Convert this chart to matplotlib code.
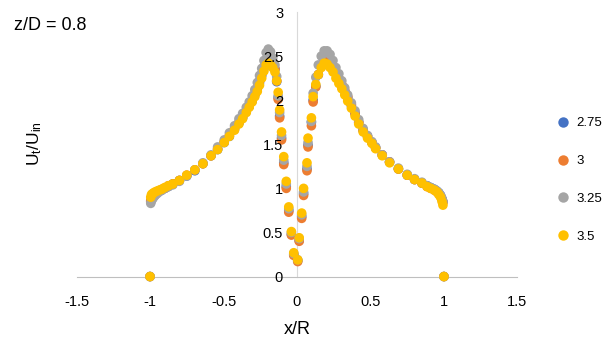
import matplotlib
matplotlib.use("Agg")
import matplotlib.pyplot as plt
from matplotlib.lines import Line2D

plt.rcParams["font.family"] = ["Liberation Sans", "DejaVu Sans"]
plt.rcParams["axes.unicode_minus"] = False
plt.rcParams["mathtext.default"] = "regular"

# radial positions x/R, left half then right half
x_left = [-1.0, -0.995, -0.99, -0.983, -0.975, -0.965, -0.952, -0.937, -0.92, -0.9,
          -0.875, -0.845, -0.8, -0.75, -0.695, -0.64, -0.585, -0.54, -0.495, -0.46,
          -0.425, -0.395, -0.37, -0.345, -0.325, -0.305, -0.287, -0.27, -0.255, -0.24,
          -0.225, -0.21, -0.195, -0.18, -0.165, -0.15, -0.138, -0.128, -0.118, -0.105,
          -0.09, -0.073, -0.056, -0.038, -0.022, 0.005]
x_right = [0.015, 0.032, 0.045, 0.068, 0.075, 0.098, 0.11, 0.128, 0.145, 0.165,
           0.185, 0.205, 0.225, 0.245, 0.265, 0.285, 0.305, 0.325, 0.345, 0.37,
           0.395, 0.42, 0.45, 0.48, 0.51, 0.535, 0.58, 0.63, 0.69, 0.75,
           0.8, 0.85, 0.885, 0.91, 0.935, 0.952, 0.965, 0.977, 0.987, 0.993,
           1.0]

# Ut/Uin, one list per case (left half, right half)
u_275_l = [0.00, 0.85, 0.88, 0.90, 0.92, 0.93, 0.95, 0.97, 0.98, 1.00,
           1.02, 1.05, 1.09, 1.14, 1.20, 1.28, 1.37, 1.44, 1.52, 1.59,
           1.67, 1.74, 1.80, 1.87, 1.93, 1.99, 2.06, 2.13, 2.20, 2.28,
           2.36, 2.44, 2.47, 2.45, 2.40, 2.35, 2.21, 2.03, 1.82, 1.57,
           1.29, 1.02, 0.75, 0.48, 0.25, 0.18]
u_275_r = [0.41, 0.68, 0.94, 1.22, 1.49, 1.75, 2.00, 2.16, 2.29, 2.38,
           2.45, 2.46, 2.43, 2.38, 2.31, 2.24, 2.17, 2.10, 2.03, 1.94,
           1.85, 1.75, 1.66, 1.59, 1.52, 1.46, 1.38, 1.30, 1.22, 1.15,
           1.10, 1.06, 1.03, 1.01, 0.99, 0.97, 0.95, 0.92, 0.88, 0.85,
           0.00]
u_3_l = [0.00, 0.86, 0.89, 0.91, 0.93, 0.94, 0.96, 0.97, 0.99, 1.00,
         1.03, 1.05, 1.09, 1.15, 1.21, 1.28, 1.37, 1.45, 1.53, 1.60,
         1.68, 1.75, 1.81, 1.88, 1.94, 2.00, 2.07, 2.14, 2.22, 2.30,
         2.38, 2.46, 2.49, 2.47, 2.42, 2.36, 2.22, 2.01, 1.80, 1.55,
         1.27, 1.00, 0.73, 0.47, 0.24, 0.17]
u_3_r = [0.40, 0.66, 0.92, 1.20, 1.47, 1.71, 1.98, 2.15, 2.29, 2.39,
         2.46, 2.47, 2.44, 2.39, 2.32, 2.25, 2.18, 2.11, 2.04, 1.95,
         1.85, 1.75, 1.66, 1.59, 1.52, 1.46, 1.38, 1.30, 1.22, 1.15,
         1.10, 1.06, 1.02, 1.00, 0.98, 0.96, 0.94, 0.91, 0.87, 0.84,
         0.00]
u_325_l = [0.00, 0.83, 0.86, 0.88, 0.90, 0.92, 0.94, 0.96, 0.98, 1.00,
           1.02, 1.04, 1.08, 1.14, 1.21, 1.29, 1.38, 1.47, 1.55, 1.63,
           1.71, 1.79, 1.85, 1.92, 1.98, 2.05, 2.12, 2.20, 2.28, 2.36,
           2.45, 2.54, 2.58, 2.55, 2.48, 2.40, 2.27, 2.05, 1.86, 1.60,
           1.32, 1.05, 0.77, 0.50, 0.26, 0.19]
u_325_r = [0.43, 0.70, 0.96, 1.25, 1.52, 1.76, 2.08, 2.26, 2.40, 2.50,
           2.56, 2.56, 2.52, 2.45, 2.37, 2.30, 2.22, 2.14, 2.06, 1.97,
           1.88, 1.78, 1.68, 1.60, 1.53, 1.47, 1.38, 1.30, 1.23, 1.16,
           1.11, 1.07, 1.03, 1.01, 0.99, 0.97, 0.95, 0.92, 0.88, 0.85,
           0.00]
u_35_l = [0.00, 0.90, 0.93, 0.94, 0.95, 0.96, 0.97, 0.98, 0.99, 1.01,
          1.03, 1.05, 1.09, 1.15, 1.21, 1.28, 1.37, 1.44, 1.52, 1.59,
          1.66, 1.73, 1.79, 1.86, 1.92, 1.98, 2.04, 2.10, 2.17, 2.25,
          2.33, 2.40, 2.42, 2.40, 2.37, 2.32, 2.22, 2.09, 1.89, 1.64,
          1.36, 1.08, 0.79, 0.51, 0.27, 0.19]
u_35_r = [0.44, 0.72, 1.00, 1.29, 1.57, 1.80, 2.04, 2.18, 2.29, 2.37,
          2.42, 2.41, 2.37, 2.32, 2.25, 2.19, 2.13, 2.06, 1.99, 1.91,
          1.82, 1.73, 1.64, 1.57, 1.51, 1.45, 1.37, 1.29, 1.22, 1.15,
          1.10, 1.06, 1.02, 1.00, 0.98, 0.96, 0.93, 0.90, 0.85, 0.81,
          0.00]

labels = ["2.75", "3", "3.25", "3.5"]
colors = ["#4472C4", "#ED7D31", "#A5A5A5", "#FFC000"]
x_ticks = [-1.5, -1, -0.5, 0, 0.5, 1, 1.5]
y_ticks = [0, 0.5, 1, 1.5, 2, 2.5, 3]

series = [u_275_l + u_275_r, u_3_l + u_3_r, u_325_l + u_325_r, u_35_l + u_35_r]
xs = x_left + x_right

fig = plt.figure(figsize=(6.04, 3.41), dpi=100)
ax = fig.add_axes([0.1267, 0.189, 0.730, 0.7757])

for ys, c in zip(series, colors):
    ax.scatter(xs, ys, s=48, color=c, edgecolors="none", zorder=2, clip_on=False)

ax.set_xlim(-1.5, 1.5)
ax.set_ylim(0, 3)
ax.set_xticks(x_ticks)
ax.set_xticklabels([f"{v:g}" for v in x_ticks])
ax.set_yticks(y_ticks)
ax.set_yticklabels([f"{v:g}" for v in y_ticks])
ax.spines["left"].set_position(("data", 0))
ax.spines["left"].set_color("#d9d9d9")
ax.spines["left"].set_zorder(1)
ax.spines["bottom"].set_color("#bfbfbf")
ax.spines["bottom"].set_zorder(1)
for sp in ("top", "right"):
    ax.spines[sp].set_visible(False)
# tick labels drawn over the markers, as in the original
ax.xaxis.set_zorder(5)
ax.yaxis.set_zorder(5)
ax.tick_params(axis="both", length=0, labelsize=10.5, colors="#000000")
ax.tick_params(axis="y", pad=10)
ax.tick_params(axis="x", pad=13)

fig.text(14 / 604, 1 - 25 / 341, "z/D = 0.8", fontsize=13, va="center", ha="left")
fig.text(35 / 604, 1 - 144 / 341, "U$_t$/U$_{in}$", fontsize=12.5, rotation=90,
         va="center", ha="center")
fig.text(297 / 604, 1 - 329 / 341, "x/R", fontsize=13, va="center", ha="center")

handles = [Line2D([], [], marker="o", ls="none", color=c, mec="none", ms=7.5, label=l)
           for c, l in zip(colors, labels)]
fig.legend(handles=handles, loc="center left", bbox_to_anchor=(550 / 604, 1 - 180 / 341),
           frameon=False, fontsize=9.5, labelspacing=1.95, handlelength=1.0,
           handletextpad=0.5, borderpad=0)

fig.savefig("out.png", dpi=100, facecolor="white")
